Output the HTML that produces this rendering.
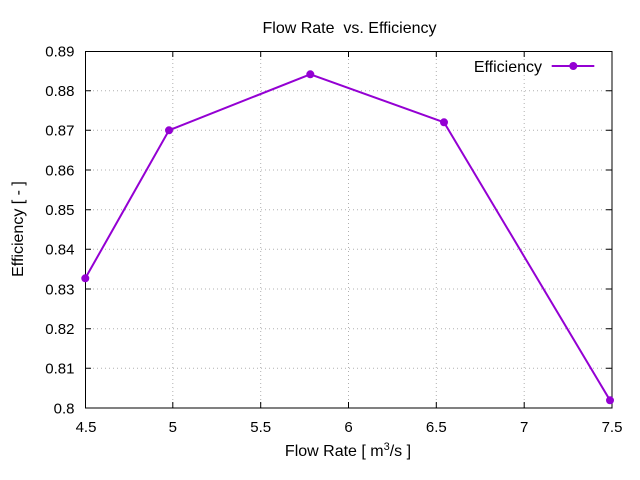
<!DOCTYPE html>
<html><head><meta charset="utf-8"><style>
html,body{margin:0;padding:0;background:#fff;}
svg{display:block;}
text{font-family:"Liberation Sans",Arial,sans-serif;fill:#000;}
</style></head><body>
<svg width="640" height="480" viewBox="0 0 640 480" xmlns="http://www.w3.org/2000/svg">
<rect width="640" height="480" fill="#fff"/>
<g stroke="#b0b0b0" stroke-width="1" stroke-dasharray="1,3">
<line x1="85" y1="368.3" x2="612" y2="368.3"/>
<line x1="85" y1="328.7" x2="612" y2="328.7"/>
<line x1="85" y1="289" x2="612" y2="289"/>
<line x1="85" y1="249.3" x2="612" y2="249.3"/>
<line x1="85" y1="209.7" x2="612" y2="209.7"/>
<line x1="85" y1="170" x2="612" y2="170"/>
<line x1="85" y1="130.3" x2="612" y2="130.3"/>
<line x1="85" y1="90.7" x2="612" y2="90.7"/>
<line x1="172.8" y1="51" x2="172.8" y2="408"/>
<line x1="260.7" y1="51" x2="260.7" y2="408"/>
<line x1="348.5" y1="51" x2="348.5" y2="408"/>
<line x1="436.3" y1="51" x2="436.3" y2="408"/>
<line x1="524.2" y1="51" x2="524.2" y2="408"/>
</g>
<g stroke="#000" stroke-width="1">
<rect x="85.5" y="51.5" width="526.5" height="356.5" fill="none"/>
<path d="M85 368.3h6M85 328.7h6M85 289h6M85 249.3h6M85 209.7h6M85 170h6M85 130.3h6M85 90.7h6
M612 368.3h-6M612 328.7h-6M612 289h-6M612 249.3h-6M612 209.7h-6M612 170h-6M612 130.3h-6M612 90.7h-6
M172.8 408v-6M260.7 408v-6M348.5 408v-6M436.3 408v-6M524.2 408v-6
M172.8 51v6M260.7 51v6M348.5 51v6M436.3 51v6M524.2 51v6"/>
</g>
<g font-size="15" text-anchor="end">
<text x="74.5" y="413.5">0.8</text>
<text x="74.5" y="373.5">0.81</text>
<text x="74.5" y="334">0.82</text>
<text x="74.5" y="294.5">0.83</text>
<text x="74.5" y="254.5">0.84</text>
<text x="74.5" y="215">0.85</text>
<text x="74.5" y="175.5">0.86</text>
<text x="74.5" y="135.5">0.87</text>
<text x="74.5" y="96">0.88</text>
<text x="74.5" y="56.5">0.89</text>
</g>
<g font-size="15" text-anchor="middle">
<text x="86" y="432">4.5</text>
<text x="172.8" y="432">5</text>
<text x="260.7" y="432">5.5</text>
<text x="348.5" y="432">6</text>
<text x="436.3" y="432">6.5</text>
<text x="524.2" y="432">7</text>
<text x="612" y="432">7.5</text>
</g>
<text x="262.5" y="33" font-size="16" xml:space="preserve">Flow Rate  vs. Efficiency</text>
<text x="348" y="456" font-size="16" text-anchor="middle">Flow Rate [ m<tspan font-size="11" dy="-6">3</tspan><tspan dy="6">/s ]</tspan></text>
<text transform="translate(23,229) rotate(-90)" font-size="16" text-anchor="middle">Efficiency [ - ]</text>
<polyline points="85.3,278.3 169,130.3 310.3,74.3 444,122.3 610,400.3" fill="none" stroke="#9400d3" stroke-width="2"/>
<g fill="#9400d3">
<circle cx="85.3" cy="278.3" r="4"/>
<circle cx="169" cy="130.3" r="4"/>
<circle cx="310.3" cy="74.3" r="4"/>
<circle cx="444" cy="122.3" r="4"/>
<circle cx="610" cy="400.3" r="4"/>
<circle cx="573.3" cy="66" r="4"/>
</g>
<line x1="551.7" y1="66" x2="594.3" y2="66" stroke="#9400d3" stroke-width="2"/>
<text x="542" y="72" font-size="16" text-anchor="end">Efficiency</text>
</svg>
</body></html>
